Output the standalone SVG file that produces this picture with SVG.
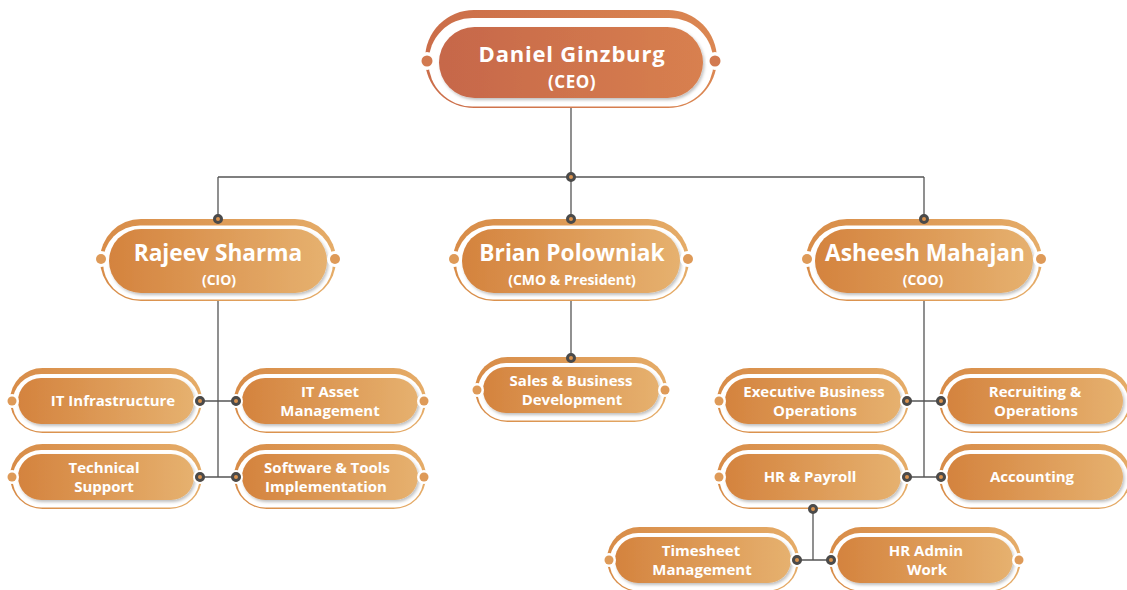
<svg xmlns="http://www.w3.org/2000/svg" width="1127" height="590" viewBox="0 0 1127 590">
<defs>
<linearGradient id="gO" x1="0" y1="0" x2="1" y2="0"><stop offset="0" stop-color="#D4833E"/><stop offset="1" stop-color="#E6B16F"/></linearGradient>
<linearGradient id="gOR" x1="0" y1="0" x2="1" y2="0"><stop offset="0" stop-color="#D88C48"/><stop offset="1" stop-color="#E5AC68"/></linearGradient>
<linearGradient id="gC" x1="0" y1="0" x2="1" y2="0"><stop offset="0" stop-color="#C6674A"/><stop offset="1" stop-color="#D8804F"/></linearGradient>
<linearGradient id="gCR" x1="0" y1="0" x2="1" y2="0"><stop offset="0" stop-color="#CB6D49"/><stop offset="1" stop-color="#DB8752"/></linearGradient>
<filter id="sh" x="-10%" y="-20%" width="120%" height="150%"><feDropShadow dx="1.5" dy="2" stdDeviation="1.5" flood-color="#000" flood-opacity="0.25"/></filter>
<style>
.ring{fill:url(#gOR)}
.ringc{fill:url(#gCR)}
.gap{fill:#fff}
.pill{fill:url(#gO);filter:url(#sh)}
.pillc{fill:url(#gC);filter:url(#sh)}
.sdw{fill:#fff}
.sd{fill:#DE9A58}
.sdc{fill:#D27A50}
text{font-family:"Open Sans","Liberation Sans",sans-serif;font-weight:bold;fill:#fff;text-anchor:middle}
.n1{font-size:22px;letter-spacing:0.8px}
.s1{font-size:17px;letter-spacing:0.5px}
.n2{font-size:22.7px}
.s2{font-size:14px}
.t3{font-size:15px}
.ln{stroke:#555;stroke-width:1.3;fill:none}
.cd{fill:#D9924E;stroke:#4a4a4a;stroke-width:3}
</style>
</defs>

<g id="ceo">
<rect class="ringc" x="425" y="10" width="292" height="98" rx="49"/>
<rect class="gap" x="428.5" y="18" width="285" height="88.5" rx="44"/>
<rect class="pillc" x="439" y="27" width="264" height="71" rx="35.5"/>
<circle class="sdw" cx="427" cy="61" r="9"/><circle class="sdc" cx="427" cy="61" r="5.5"/>
<circle class="sdw" cx="715" cy="61" r="9"/><circle class="sdc" cx="715" cy="61" r="5.5"/>
<text class="n1" x="572" y="62">Daniel Ginzburg</text>
<text class="s1" x="572" y="88">(CEO)</text>
</g>

<g id="cio">
<rect class="ring" x="100" y="219" width="236" height="82" rx="41"/>
<rect class="gap" x="103" y="225.5" width="230" height="74" rx="37"/>
<rect class="pill" x="109" y="229" width="218" height="64" rx="32"/>
<circle class="sdw" cx="101" cy="259" r="8"/><circle class="sd" cx="101" cy="259" r="5"/>
<circle class="sdw" cx="335" cy="259" r="8"/><circle class="sd" cx="335" cy="259" r="5"/>
<text class="n2" x="218" y="261">Rajeev Sharma</text>
<text class="s2" x="219" y="285">(CIO)</text>
</g>

<g id="cmo">
<rect class="ring" x="453" y="219" width="236" height="82" rx="41"/>
<rect class="gap" x="456" y="225.5" width="230" height="74" rx="37"/>
<rect class="pill" x="462" y="229" width="218" height="64" rx="32"/>
<circle class="sdw" cx="454" cy="259" r="8"/><circle class="sd" cx="454" cy="259" r="5"/>
<circle class="sdw" cx="688" cy="259" r="8"/><circle class="sd" cx="688" cy="259" r="5"/>
<text class="n2" x="572" y="261">Brian Polowniak</text>
<text class="s2" x="572" y="285">(CMO &amp; President)</text>
</g>

<g id="coo">
<rect class="ring" x="806" y="219" width="236" height="82" rx="41"/>
<rect class="gap" x="809" y="225.5" width="230" height="74" rx="37"/>
<rect class="pill" x="815" y="229" width="218" height="64" rx="32"/>
<circle class="sdw" cx="807" cy="259" r="8"/><circle class="sd" cx="807" cy="259" r="5"/>
<circle class="sdw" cx="1041" cy="259" r="8"/><circle class="sd" cx="1041" cy="259" r="5"/>
<text class="n2" x="925" y="261">Asheesh Mahajan</text>
<text class="s2" x="923" y="285">(COO)</text>
</g>

<g id="it-infra">
<rect class="ring" x="10" y="368" width="192" height="65" rx="32.5"/>
<rect class="gap" x="12.5" y="374" width="187" height="57.5" rx="28.75"/>
<rect class="pill" x="18" y="378" width="176" height="46" rx="23"/>
<circle class="sdw" cx="12" cy="401" r="7"/><circle class="sd" cx="12" cy="401" r="4.5"/>
<circle class="sdw" cx="200" cy="401" r="7"/><circle class="sd" cx="200" cy="401" r="4.5"/>
<text class="t3" x="113" y="406">IT Infrastructure</text>
</g>

<g id="it-asset">
<rect class="ring" x="234" y="368" width="192" height="65" rx="32.5"/>
<rect class="gap" x="236.5" y="374" width="187" height="57.5" rx="28.75"/>
<rect class="pill" x="242" y="378" width="176" height="46" rx="23"/>
<circle class="sdw" cx="236" cy="401" r="7"/><circle class="sd" cx="236" cy="401" r="4.5"/>
<circle class="sdw" cx="424" cy="401" r="7"/><circle class="sd" cx="424" cy="401" r="4.5"/>
<text class="t3" x="330" y="397">IT Asset</text>
<text class="t3" x="330" y="416">Management</text>
</g>

<g id="tech-support">
<rect class="ring" x="10" y="444" width="192" height="65" rx="32.5"/>
<rect class="gap" x="12.5" y="450" width="187" height="57.5" rx="28.75"/>
<rect class="pill" x="18" y="454" width="176" height="46" rx="23"/>
<circle class="sdw" cx="12" cy="477" r="7"/><circle class="sd" cx="12" cy="477" r="4.5"/>
<circle class="sdw" cx="200" cy="477" r="7"/><circle class="sd" cx="200" cy="477" r="4.5"/>
<text class="t3" x="104" y="473">Technical</text>
<text class="t3" x="104" y="492">Support</text>
</g>

<g id="software-tools">
<rect class="ring" x="234" y="444" width="192" height="65" rx="32.5"/>
<rect class="gap" x="236.5" y="450" width="187" height="57.5" rx="28.75"/>
<rect class="pill" x="242" y="454" width="176" height="46" rx="23"/>
<circle class="sdw" cx="236" cy="477" r="7"/><circle class="sd" cx="236" cy="477" r="4.5"/>
<circle class="sdw" cx="424" cy="477" r="7"/><circle class="sd" cx="424" cy="477" r="4.5"/>
<text class="t3" x="327" y="473">Software &amp; Tools</text>
<text class="t3" x="326" y="492">Implementation</text>
</g>

<g id="sales">
<rect class="ring" x="475" y="357" width="192" height="65" rx="32.5"/>
<rect class="gap" x="477.5" y="363" width="187" height="57.5" rx="28.75"/>
<rect class="pill" x="483" y="367" width="176" height="46" rx="23"/>
<circle class="sdw" cx="477" cy="390" r="7"/><circle class="sd" cx="477" cy="390" r="4.5"/>
<circle class="sdw" cx="665" cy="390" r="7"/><circle class="sd" cx="665" cy="390" r="4.5"/>
<text class="t3" x="571" y="386">Sales &amp; Business</text>
<text class="t3" x="572" y="405">Development</text>
</g>

<g id="exec-ops">
<rect class="ring" x="717" y="368" width="192" height="65" rx="32.5"/>
<rect class="gap" x="719.5" y="374" width="187" height="57.5" rx="28.75"/>
<rect class="pill" x="725" y="378" width="176" height="46" rx="23"/>
<circle class="sdw" cx="719" cy="401" r="7"/><circle class="sd" cx="719" cy="401" r="4.5"/>
<circle class="sdw" cx="907" cy="401" r="7"/><circle class="sd" cx="907" cy="401" r="4.5"/>
<text class="t3" x="814" y="397">Executive Business</text>
<text class="t3" x="815" y="416">Operations</text>
</g>

<g id="recruiting">
<rect class="ring" x="939" y="368" width="192" height="65" rx="32.5"/>
<rect class="gap" x="941.5" y="374" width="187" height="57.5" rx="28.75"/>
<rect class="pill" x="947" y="378" width="176" height="46" rx="23"/>
<circle class="sdw" cx="941" cy="401" r="7"/><circle class="sd" cx="941" cy="401" r="4.5"/>
<text class="t3" x="1035" y="397">Recruiting &amp;</text>
<text class="t3" x="1036" y="416">Operations</text>
</g>

<g id="hr-payroll">
<rect class="ring" x="717" y="444" width="192" height="65" rx="32.5"/>
<rect class="gap" x="719.5" y="450" width="187" height="57.5" rx="28.75"/>
<rect class="pill" x="725" y="454" width="176" height="46" rx="23"/>
<circle class="sdw" cx="719" cy="477" r="7"/><circle class="sd" cx="719" cy="477" r="4.5"/>
<circle class="sdw" cx="907" cy="477" r="7"/><circle class="sd" cx="907" cy="477" r="4.5"/>
<text class="t3" x="810" y="482">HR &amp; Payroll</text>
</g>

<g id="accounting">
<rect class="ring" x="939" y="444" width="192" height="65" rx="32.5"/>
<rect class="gap" x="941.5" y="450" width="187" height="57.5" rx="28.75"/>
<rect class="pill" x="947" y="454" width="176" height="46" rx="23"/>
<circle class="sdw" cx="941" cy="477" r="7"/><circle class="sd" cx="941" cy="477" r="4.5"/>
<text class="t3" x="1032" y="482">Accounting</text>
</g>

<g id="timesheet">
<rect class="ring" x="607" y="527" width="192" height="65" rx="32.5"/>
<rect class="gap" x="609.5" y="533" width="187" height="57.5" rx="28.75"/>
<rect class="pill" x="615" y="537" width="176" height="46" rx="23"/>
<circle class="sdw" cx="609" cy="560" r="7"/><circle class="sd" cx="609" cy="560" r="4.5"/>
<circle class="sdw" cx="797" cy="560" r="7"/><circle class="sd" cx="797" cy="560" r="4.5"/>
<text class="t3" x="701" y="556">Timesheet</text>
<text class="t3" x="702" y="575">Management</text>
</g>

<g id="hr-admin">
<rect class="ring" x="829" y="527" width="192" height="65" rx="32.5"/>
<rect class="gap" x="831.5" y="533" width="187" height="57.5" rx="28.75"/>
<rect class="pill" x="837" y="537" width="176" height="46" rx="23"/>
<circle class="sdw" cx="831" cy="560" r="7"/><circle class="sd" cx="831" cy="560" r="4.5"/>
<circle class="sdw" cx="1019" cy="560" r="7"/><circle class="sd" cx="1019" cy="560" r="4.5"/>
<text class="t3" x="926" y="556">HR Admin</text>
<text class="t3" x="927" y="575">Work</text>
</g>

<g id="connectors">
<path class="ln" d="M571 108V177M218 177H924M218 177V219M571 177V219M924 177V219"/>
<path class="ln" d="M218 301V477M200 401H236M200 477H236"/>
<path class="ln" d="M571 301V358"/>
<path class="ln" d="M924 301V477M907 401H941M907 477H941"/>
<path class="ln" d="M813 509V560M797 560H831"/>
<circle class="cd" cx="571" cy="177" r="3.5"/>
<circle class="cd" cx="218" cy="219" r="3.5"/>
<circle class="cd" cx="571" cy="219" r="3.5"/>
<circle class="cd" cx="924" cy="219" r="3.5"/>
<circle class="cd" cx="200" cy="401" r="3.5"/>
<circle class="cd" cx="236" cy="401" r="3.5"/>
<circle class="cd" cx="200" cy="477" r="3.5"/>
<circle class="cd" cx="236" cy="477" r="3.5"/>
<circle class="cd" cx="571" cy="358" r="3.5"/>
<circle class="cd" cx="907" cy="401" r="3.5"/>
<circle class="cd" cx="941" cy="401" r="3.5"/>
<circle class="cd" cx="907" cy="477" r="3.5"/>
<circle class="cd" cx="941" cy="477" r="3.5"/>
<circle class="cd" cx="813" cy="509" r="3.5"/>
<circle class="cd" cx="797" cy="560" r="3.5"/>
<circle class="cd" cx="831" cy="560" r="3.5"/>
</g>
</svg>
